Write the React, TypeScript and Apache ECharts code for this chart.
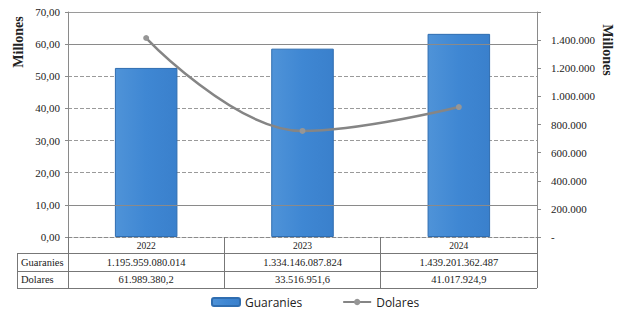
import React, { useEffect, useRef } from "react";
import * as echarts from "echarts";

const years = ["2022", "2023", "2024"];
const guaraniesMillones = [52.6, 58.6, 63.2];
const dolaresPlot = [1415000, 754000, 924000];
const guaraniesLabels = ["1.195.959.080.014", "1.334.146.087.824", "1.439.201.362.487"];
const dolaresLabels = ["61.989.380,2", "33.516.951,6", "41.017.924,9"];
const rowHeaders = ["Guaranies", "Dolares"];
const seriesNames = ["Guaranies", "Dolares"];
const axisTitle = "Millones";
const solidGridValues = [60, 10];

const serif = "'Liberation Serif', 'DejaVu Serif', serif";

function dotted(v: number): string {
  return String(Math.round(v)).replace(/\B(?=(\d{3})+(?!\d))/g, ".");
}

export default function App() {
  const ref = useRef<HTMLDivElement>(null);
  useEffect(() => {
    if (!ref.current) return;
    const chart = echarts.init(ref.current, null, { renderer: "svg" });
    const gridColor = "#8a8a8a";
    chart.setOption({
      animation: false,
      backgroundColor: "#ffffff",
      grid: { left: 68, right: 80, top: 12, bottom: 75, show: false },
      legend: {
        left: 206,
        top: 291,
        itemWidth: 28,
        itemHeight: 8,
        itemGap: 40,
        data: seriesNames,
        textStyle: { fontFamily: "'Open Sans', sans-serif", fontSize: 12, color: "#222" },
      },
      xAxis: [
        {
          type: "category",
          data: years,
          axisLine: { show: true, lineStyle: { color: gridColor, type: "dashed" } },
          axisTick: { show: true, length: 51, lineStyle: { color: "#777" } },
          axisLabel: { fontFamily: serif, fontSize: 9.5, color: "#222", margin: 4 },
        },
        {
          type: "category",
          data: guaraniesLabels,
          position: "bottom",
          offset: 17,
          axisLine: { show: false },
          axisTick: { show: false },
          axisLabel: { fontFamily: serif, fontSize: 10.5, color: "#222", margin: 3 },
        },
        {
          type: "category",
          data: dolaresLabels,
          position: "bottom",
          offset: 34,
          axisLine: { show: false },
          axisTick: { show: false },
          axisLabel: { fontFamily: serif, fontSize: 10.5, color: "#222", margin: 3 },
        },
      ],
      yAxis: [
        {
          type: "value",
          min: 0,
          max: 70,
          interval: 10,
          axisLine: { show: true, lineStyle: { color: gridColor } },
          axisTick: { show: true, length: 3, lineStyle: { color: gridColor } },
          axisLabel: {
            fontFamily: serif,
            fontSize: 11,
            color: "#222",
            margin: 8,
            formatter: (v: number) => v.toFixed(2).replace(".", ","),
          },
          splitLine: { show: true, lineStyle: { color: "#9a9a9a", type: "dashed" } },
        },
        {
          type: "value",
          min: 0,
          max: 1600000,
          interval: 200000,
          axisLine: { show: true, lineStyle: { color: gridColor } },
          axisTick: { show: true, length: 4, lineStyle: { color: gridColor } },
          axisLabel: {
            fontFamily: serif,
            fontSize: 11,
            color: "#222",
            margin: 14,
            align: "left",
            formatter: (v: number) => (v === 0 ? "-" : v === 1600000 ? "" : dotted(v)),
          },
          splitLine: { show: false },
        },
      ],
      series: [
        {
          name: seriesNames[0],
          type: "bar",
          data: guaraniesMillones,
          barWidth: "40%",
          itemStyle: {
            color: new echarts.graphic.LinearGradient(0, 0, 1, 0, [
              { offset: 0, color: "#4f93d8" },
              { offset: 0.5, color: "#3f87d3" },
              { offset: 1, color: "#3a80cc" },
            ]),
            borderColor: "#2f6db0",
            borderWidth: 1,
          },
          markLine: {
            silent: true,
            symbol: "none",
            label: { show: false },
            lineStyle: { color: "#8a8a8a", type: "solid", width: 1 },
            data: solidGridValues.map((v) => ({ yAxis: v })),
          },
          z: 3,
        },
        {
          name: seriesNames[1],
          type: "line",
          yAxisIndex: 1,
          data: dolaresPlot,
          smooth: 0.4,
          symbol: "circle",
          symbolSize: 6,
          lineStyle: { color: "#858585", width: 2.5 },
          itemStyle: { color: "#969696" },
          z: 4,
        },
      ],
      graphic: [
        { type: "line", shape: { x1: 17, y1: 253.5, x2: 537, y2: 253.5 }, style: { stroke: "#777", lineWidth: 1 } },
        { type: "line", shape: { x1: 17, y1: 271.5, x2: 537, y2: 271.5 }, style: { stroke: "#777", lineWidth: 1 } },
        { type: "line", shape: { x1: 17, y1: 288.5, x2: 537, y2: 288.5 }, style: { stroke: "#777", lineWidth: 1 } },
        { type: "line", shape: { x1: 17.5, y1: 253, x2: 17.5, y2: 289 }, style: { stroke: "#777", lineWidth: 1 } },
        { type: "line", shape: { x1: 68, y1: 12.5, x2: 537, y2: 12.5 }, style: { stroke: "#9a9a9a", lineWidth: 1 } },
        {
          type: "text",
          x: 21,
          y: 262,
          style: { text: rowHeaders[0], font: `10.5px ${serif}`, fill: "#222", verticalAlign: "middle" },
        },
        {
          type: "text",
          x: 21,
          y: 279.5,
          style: { text: rowHeaders[1], font: `10.5px ${serif}`, fill: "#222", verticalAlign: "middle" },
        },
        {
          type: "text",
          x: 18,
          y: 42,
          rotation: Math.PI / 2,
          style: {
            text: axisTitle,
            font: `bold 14px ${serif}`,
            fill: "#222",
            align: "center",
            verticalAlign: "middle",
          },
        },
        {
          type: "text",
          x: 607,
          y: 50,
          rotation: -Math.PI / 2,
          style: {
            text: axisTitle,
            font: `bold 14px ${serif}`,
            fill: "#222",
            align: "center",
            verticalAlign: "middle",
          },
        },
      ],
    });
    return () => chart.dispose();
  }, []);
  return <div ref={ref} style={{ position: "fixed", left: 0, top: 0, width: 617, height: 312 }} />;
}
